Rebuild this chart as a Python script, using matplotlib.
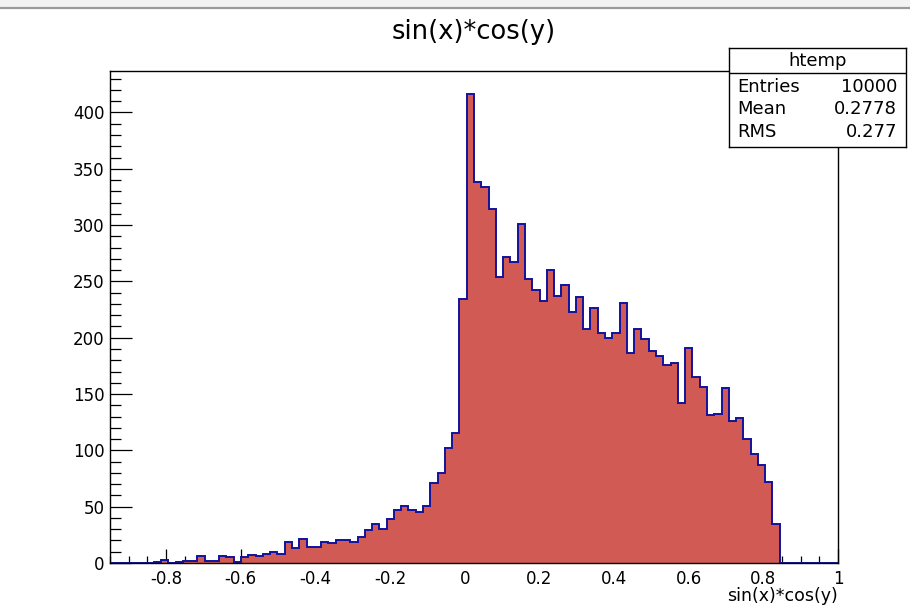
import numpy as np
import matplotlib
matplotlib.use("Agg")
import matplotlib.pyplot as plt
from matplotlib.ticker import MultipleLocator
from matplotlib.patches import Rectangle
from matplotlib.lines import Line2D

plt.rcParams['font.family'] = ['DejaVu Sans']

# Histogram definition (htemp): 100 bins over [-0.95, 1.0]
x_min, x_max, n_bins = -0.95, 1.0, 100
counts = [
    0, 0, 0, 0, 0, 0, 1, 3, 0, 1,
    2, 2, 6, 2, 2, 6, 5, 1, 5, 7,
    6, 8, 10, 8, 19, 13, 21, 14, 14, 19,
    18, 20, 20, 19, 23, 29, 35, 30, 39, 47,
    51, 47, 45, 51, 71, 80, 102, 115, 234, 416,
    338, 334, 314, 254, 272, 267, 301, 252, 242, 233,
    260, 237, 247, 223, 236, 208, 226, 204, 200, 204,
    231, 186, 208, 199, 188, 184, 176, 178, 142, 191,
    165, 156, 131, 132, 155, 126, 129, 110, 97, 87,
    72, 35, 0, 0, 0, 0, 0, 0, 0, 0,
]
title_text = "sin(x)*cos(y)"
hist_name = "htemp"
stat_labels = ["Entries", "Mean", "RMS"]
stat_values = ["10000", "0.2778", "0.277"]

W, H = 910, 607
fig = plt.figure(figsize=(W / 100, H / 100), dpi=100)
fig.patch.set_facecolor("white")

# window strip along the top edge
fig.patches.append(Rectangle((0, 1 - 7 / H), 1, 7 / H, transform=fig.transFigure,
                             facecolor="#f2f2f2", edgecolor="none", zorder=0))
fig.lines.append(Line2D([0, 1], [1 - 7.5 / H, 1 - 7.5 / H], transform=fig.transFigure,
                        color="#9a9a9a", lw=1.6))

L, R, T, B = 110, 838, 71, 563
ax = fig.add_axes([L / W, 1 - B / H, (R - L) / W, (B - T) / H])

edges = np.linspace(x_min, x_max, n_bins + 1)
vals = np.array(counts, dtype=float)
ax.stairs(vals, edges, fill=True, facecolor="#d25a55", edgecolor="none", zorder=2)
ax.stairs(vals, edges, color="#12129c", lw=1.4, zorder=3, baseline=None)

ax.set_xlim(x_min, x_max)
ax.set_ylim(0, vals.max() * 1.05)

ax.xaxis.set_major_locator(MultipleLocator(0.2))
ax.xaxis.set_minor_locator(MultipleLocator(0.05))
ax.yaxis.set_major_locator(MultipleLocator(50))
ax.yaxis.set_minor_locator(MultipleLocator(10))

def fmt_x(v, pos):
    if abs(v) < 1e-9:
        return "0"
    if abs(v - round(v)) < 1e-9:
        return "%d" % round(v)
    return ("%.1f" % v)
ax.xaxis.set_major_formatter(fmt_x)

ax.tick_params(axis="x", which="major", direction="in", length=10, width=0.9,
               labelsize=12, pad=5, top=False)
ax.tick_params(axis="x", which="minor", direction="in", length=5, width=0.9, top=False)
ax.tick_params(axis="y", which="major", direction="in", length=15.5, width=0.9,
               labelsize=12, pad=4, right=False)
ax.tick_params(axis="y", which="minor", direction="in", length=8, width=0.9, right=False)
for s in ax.spines.values():
    s.set_linewidth(1.0)
    s.set_color("black")
    s.set_zorder(6)

fig.text((L + R) / 2 / W, 1 - 32 / H, title_text, ha="center", va="center", fontsize=18.5)
fig.text(R / W, 1 - 596 / H, title_text, ha="right", va="center", fontsize=12.5)

# statistics box
bx0, bx1, by0, by1 = 729, 906, 48, 147
sax = fig.add_axes([bx0 / W, 1 - by1 / H, (bx1 - bx0) / W, (by1 - by0) / H])
sax.set_xlim(bx0, bx1)
sax.set_ylim(by1, by0)
sax.set_xticks([])
sax.set_yticks([])
sax.set_facecolor("white")
for s in sax.spines.values():
    s.set_linewidth(1.0)
    s.set_color("black")
sax.plot([bx0, bx1], [72.7, 72.7], color="black", lw=1.0)
sax.text((bx0 + bx1) / 2, 61, hist_name, ha="center", va="center", fontsize=13)
for i, (lab, val) in enumerate(zip(stat_labels, stat_values)):
    yy = 87 + i * 22.5
    sax.text(737, yy, lab, ha="left", va="center", fontsize=13)
    sax.text(897, yy, val, ha="right", va="center", fontsize=13)

fig.savefig("out.png", dpi=100)
